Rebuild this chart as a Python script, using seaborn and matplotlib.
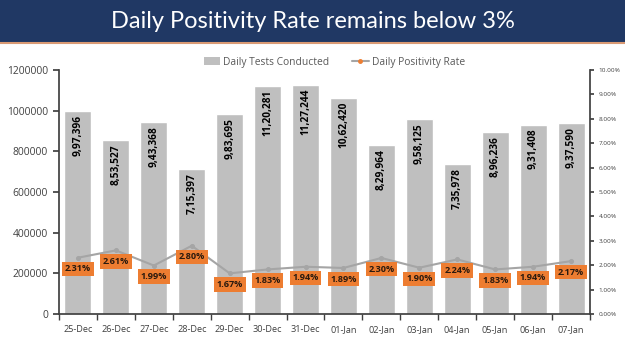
import numpy as np
import pandas as pd
import seaborn as sns
import matplotlib as mpl
mpl.use('Agg')
import matplotlib.pyplot as plt
from matplotlib.patches import Rectangle
from matplotlib.lines import Line2D
from matplotlib.ticker import FuncFormatter, MultipleLocator

# data
dates = ['25-Dec', '26-Dec', '27-Dec', '28-Dec', '29-Dec', '30-Dec', '31-Dec',
         '01-Jan', '02-Jan', '03-Jan', '04-Jan', '05-Jan', '06-Jan', '07-Jan']
tests = [997396, 853527, 943368, 715397, 983695, 1120281, 1127244,
         1062420, 829964, 958125, 735978, 896236, 931408, 937590]
rate = [2.31, 2.61, 1.99, 2.80, 1.67, 1.83, 1.94,
        1.89, 2.30, 1.90, 2.24, 1.83, 1.94, 2.17]

title = 'Daily Positivity Rate remains below 3%'

navy = '#203864'
orange = '#ed7d31'
bar_grey = '#bfbfbf'
line_grey = '#a5a5a5'
text_grey = '#404040'


# indian style digit grouping, e.g. 11,20,281
def indian_fmt(n):
    s = str(int(n))
    if len(s) <= 3:
        return s
    head, tail = s[:-3], s[-3:]
    parts = []
    while len(head) > 2:
        parts.insert(0, head[-2:])
        head = head[:-2]
    if head:
        parts.insert(0, head)
    return ','.join(parts) + ',' + tail


df = pd.DataFrame({'date': dates, 'tests': tests, 'rate': rate})

sns.set_theme(style='white')
plt.rcParams['font.family'] = ['Open Sans', 'DejaVu Sans']

fig = plt.figure(figsize=(6.25, 3.51), dpi=100)

# title banner
fig.patches.append(Rectangle((0, 0.881), 1, 0.119, transform=fig.transFigure,
                             facecolor=navy, edgecolor='none', zorder=0))
fig.lines.append(Line2D([0, 1], [0.878, 0.878], transform=fig.transFigure,
                        color='#d99a74', lw=1.5))
fig.text(0.5, 0.92, title, ha='center', va='baseline', color='white',
         fontsize=17, family=['Lato', 'DejaVu Sans'])

ax = fig.add_axes([0.0944, 0.105, 0.8496, 0.696])
sns.barplot(data=df, x='date', y='tests', color=bar_grey, saturation=1,
            width=0.71, ax=ax)
ax.set_xlim(-0.5, len(dates) - 0.5)
ax.set_ylim(0, 1200000)
ax.yaxis.set_major_locator(MultipleLocator(200000))
ax.yaxis.set_major_formatter(FuncFormatter(lambda v, p: '%d' % v))
ax.set_xlabel('')
ax.set_ylabel('')

for i, v in enumerate(tests):
    ax.annotate(indian_fmt(v), xy=(i, v), xytext=(0, -3), textcoords='offset points',
                rotation=90, ha='center', va='top', fontsize=7.3,
                fontweight='bold', color='black')

# positivity rate on secondary axis
ax2 = ax.twinx()
sns.pointplot(data=df, x='date', y='rate', color=line_grey, markers='o',
              markersize=2.5, linewidth=1.5, ax=ax2)
ax2.set_xlim(-0.5, len(dates) - 0.5)
ax2.set_ylim(0, 10)
ax2.yaxis.set_major_locator(MultipleLocator(1))
ax2.yaxis.set_major_formatter(FuncFormatter(lambda v, p: '%.2f%%' % v))
ax2.set_ylabel('')
ax2.set_xlabel('')

for i, r in enumerate(rate):
    ax2.annotate('%.2f%%' % r, xy=(i, r), xytext=(0, -8), textcoords='offset points',
                 ha='center', va='center', fontsize=6.6, fontweight='bold',
                 color='#2b1a0e',
                 bbox=dict(boxstyle='square,pad=0.3', facecolor=orange,
                           edgecolor='none'))

# spines and ticks in excel style
for a in (ax, ax2):
    for s in a.spines.values():
        s.set_visible(False)
ax.spines['left'].set_visible(True)
ax.spines['bottom'].set_visible(True)
ax.spines['left'].set_color(text_grey)
ax.spines['bottom'].set_color(text_grey)
ax2.spines['right'].set_visible(True)
ax2.spines['right'].set_color(text_grey)

ax.set_xticks(np.arange(len(dates)))
ax.set_xticklabels(dates)
ax.set_xticks(np.arange(len(dates) + 1) - 0.5, minor=True)
ax.tick_params(axis='x', which='major', length=0, labelsize=6.6,
               labelcolor=text_grey, pad=8)
ax.tick_params(axis='x', which='minor', length=4, color=text_grey,
               direction='out', bottom=True)
ax.tick_params(axis='y', length=4, color=text_grey, direction='out', left=True,
               labelsize=7.4, labelcolor=text_grey, pad=4)
ax2.tick_params(axis='y', length=3, color=text_grey, direction='out', right=True,
                labelsize=4.6, labelcolor=text_grey, pad=3)
ax2.tick_params(axis='x', length=0)
ax2.grid(False)
ax.grid(False)

# legend above the plot
handles = [
    Rectangle((0, 0), 1, 1, facecolor=bar_grey, edgecolor='none'),
    Line2D([0], [0], color=line_grey, lw=1.5, marker='o', markersize=2.5,
           markerfacecolor=orange, markeredgecolor=orange),
]
fig.legend(handles, ['Daily Tests Conducted', 'Daily Positivity Rate'],
           loc='center', bbox_to_anchor=(0.535, 0.822), ncol=2, frameon=False,
           fontsize=7.4, labelcolor='#595959', handlelength=1.6,
           handleheight=0.8, handletextpad=0.3, columnspacing=2.2)

fig.savefig('out.png', dpi=100)
